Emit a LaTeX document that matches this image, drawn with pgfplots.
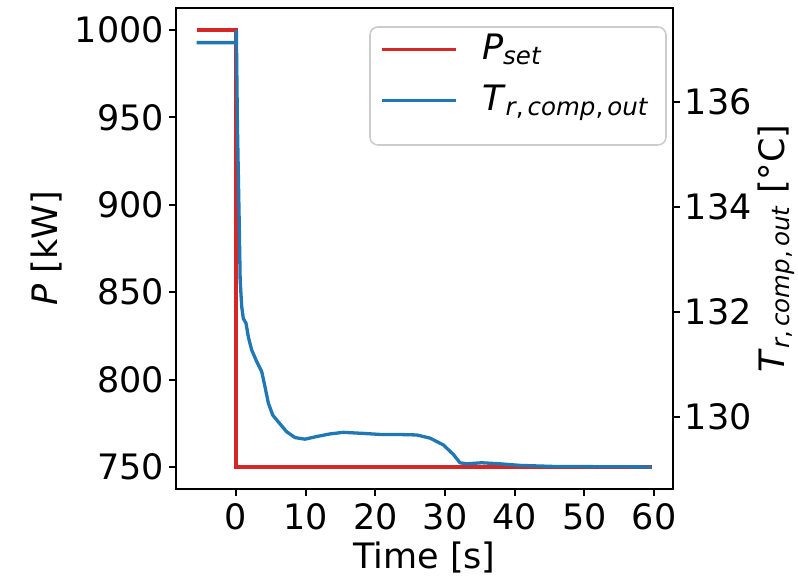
\documentclass[border=0pt]{standalone}
\usepackage{fontspec}
\setmainfont{DejaVu Sans}
\usepackage{pgfplots}
\pgfplotsset{compat=1.18}
\definecolor{tred}{HTML}{D62728}
\definecolor{tblue}{HTML}{1F77B4}
\newcommand{\fs}{\fontsize{17.5}{21}\selectfont}
\begin{document}
\fs
\begin{tikzpicture}
\pgfplotsset{
  every axis/.append style={
    scale only axis, width=248.5pt, height=240.5pt,
    at={(0,0)}, anchor=south west,
    xmin=-8.61, xmax=62.72,
    tick align=outside, major tick length=3.5pt,
    axis line style={line width=0.9pt},
    every tick/.style={black, line width=0.9pt},
    tick label style={font=\fs},
    yticklabel style={inner xsep=2.3pt},
    xticklabel style={inner ysep=0pt, yshift=-3.8pt},
    label style={font=\fs},
    /pgf/number format/assume math mode=true,
    /pgf/number format/1000 sep={},
  }
}
\begin{axis}[
  ymin=737.5, ymax=1012.5,
  xtick={0,10,...,60}, ytick={750,800,...,1000},
  xtick pos=left, ytick pos=left,
  xlabel={Time [s]}, ylabel={\textit{P} [kW]},
  every axis x label/.style={at={(axis description cs:0.5,-0.110)}, anchor=north, inner sep=0pt},
  every axis y label/.style={at={(axis description cs:-0.2596,0.5)}, rotate=90, anchor=center},
]
\addplot[tred, line width=1.65pt] coordinates {(-5.64,1000) (0,1000) (0,750) (59.66,750)};
\end{axis}
\begin{axis}[
  ymin=128.62, ymax=137.79,
  axis x line=none, axis y line*=right,
  ytick={130,132,134,136},
  ylabel={\textit{T}\textsubscript{\textit{r},\,\textit{comp},\,\textit{out}} [°C]},
  every axis y label/.style={at={(axis description cs:1.2072,0.5)}, rotate=90, anchor=center},
  legend style={at={(axis description cs:0.9853,0.9611)}, anchor=north east,
    draw=none, fill=none,
    font=\fs, row sep=6pt, inner xsep=6pt, inner ysep=1.5pt,
    cells={anchor=west}},
  legend image code/.code={\draw[#1] (0pt,0pt) -- (37pt,0pt);},
]
\draw[black!20, line width=0.8pt, fill=white, fill opacity=0.8, rounded corners=4pt]
  (axis description cs:0.3903,0.7152) rectangle (axis description cs:0.9859,0.9605);
\addlegendimage{tred, line width=1.65pt}
\addlegendentry{\hspace{10pt}\textit{P}\textsubscript{\textit{set}}}
\addplot[tblue, line width=1.65pt] coordinates {
(-5.64,137.13) (0,137.13) (0.05,137.37) (0.2,135.6) (0.45,133.8) (0.6,132.6)
(0.82,132.10) (1.05,131.87) (1.44,131.78) (1.77,131.52) (2.25,131.27) (2.97,131.05)
(3.69,130.86) (4.16,130.57) (4.64,130.26) (5.27,130.03) (6.07,129.90) (7.28,129.71)
(8.47,129.60) (9.90,129.57) (11.58,129.62) (13.49,129.67) (15.40,129.70) (18.27,129.68)
(20.67,129.66) (23.07,129.66) (25.94,129.65) (27.85,129.59) (29.76,129.46) (31.19,129.28)
(32.15,129.12) (33.11,129.10) (35.27,129.12) (37.89,129.10) (40.76,129.07) (45.54,129.05)
(59.66,129.04)};
\addlegendentry{\hspace{10pt}\textit{T}\textsubscript{\textit{r},\,\textit{comp},\,\textit{out}}}
\end{axis}
\pgfresetboundingbox
\path (-88pt,-44pt) rectangle (311pt,244.5pt);
\end{tikzpicture}
\end{document}
